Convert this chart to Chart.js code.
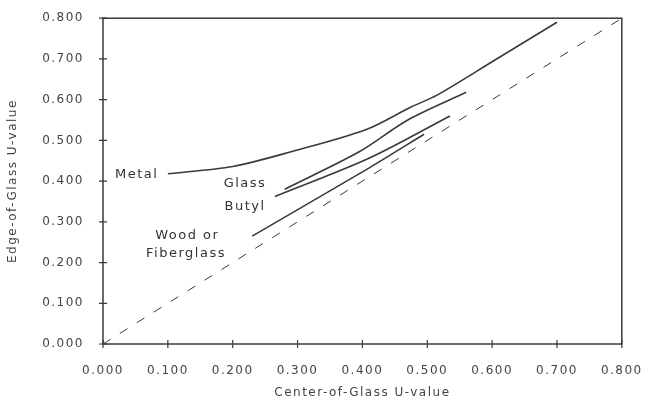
<!DOCTYPE html>
<html>
<head>
<meta charset="utf-8">
<script src="https://cdn.jsdelivr.net/npm/chart.js@4"></script>
<style>
  body { margin: 0; background: #fff; }
  #wrap { width: 651px; height: 405px; }
</style>
</head>
<body>
<div id="wrap"><canvas id="uChart" width="651" height="405"></canvas></div>
<script>
// 各スペーサーの中心部U値と端部U値
const metalX = [0.100, 0.200, 0.290, 0.405, 0.475, 0.515, 0.605, 0.700];
const metalY = [0.418, 0.436, 0.472, 0.526, 0.582, 0.611, 0.698, 0.790];
const glassX = [0.280, 0.395, 0.470, 0.560];
const glassY = [0.380, 0.472, 0.550, 0.618];
const butylX = [0.265, 0.410, 0.535];
const butylY = [0.362, 0.456, 0.560];
const woodX = [0.230, 0.410, 0.495];
const woodY = [0.265, 0.432, 0.515];
const diagX = [0.0, 0.8];
const diagY = [0.0, 0.8];
const tickValues = [0, 0.1, 0.2, 0.3, 0.4, 0.5, 0.6, 0.7, 0.8];

// 線の横に置くラベル (データ座標)
const seriesLabels = [
    { text: 'Metal', x: 0.052, y: 0.416 },
    { text: 'Glass', x: 0.219, y: 0.394 },
    { text: 'Butyl', x: 0.219, y: 0.338 },
    { text: 'Wood or', x: 0.130, y: 0.265 },
    { text: 'Fiberglass', x: 0.128, y: 0.223 }
];

const INK = '#3a3a3a';
const FONT = "'DejaVu Sans', sans-serif";

function toPoints(xs, ys) {
    return xs.map((x, i) => ({ x: x, y: ys[i] }));
}

function lineSet(label, xs, ys, dashed) {
    return {
        label: label,
        data: toPoints(xs, ys),
        showLine: true,
        borderColor: INK,
        borderWidth: dashed ? 1 : 1.6,
        borderDash: dashed ? [9, 11] : [],
        pointRadius: 0,
        tension: 0.3,
        fill: false
    };
}

// 枠線と目盛り線、系列ラベルを描くプラグイン
const framePlugin = {
    id: 'frame',
    beforeDraw(chart) {
        chart.ctx.letterSpacing = '1.5px';
    },
    afterDraw(chart) {
        const ctx = chart.ctx;
        const area = chart.chartArea;
        const xs = chart.scales.x;
        const ys = chart.scales.y;
        ctx.save();
        ctx.strokeStyle = INK;
        ctx.lineWidth = 1.5;
        ctx.strokeRect(area.left, area.top, area.right - area.left, area.bottom - area.top);
        ctx.lineWidth = 1.2;
        ctx.beginPath();
        tickValues.forEach(v => {
            const px = xs.getPixelForValue(v);
            ctx.moveTo(px, area.bottom - 4);
            ctx.lineTo(px, area.bottom + 4);
            const py = ys.getPixelForValue(v);
            ctx.moveTo(area.left - 4, py);
            ctx.lineTo(area.left + 4, py);
        });
        ctx.stroke();

        ctx.fillStyle = '#333';
        ctx.font = '13px ' + FONT;
        ctx.textAlign = 'center';
        ctx.textBaseline = 'middle';
        seriesLabels.forEach(l => {
            ctx.fillText(l.text, xs.getPixelForValue(l.x), ys.getPixelForValue(l.y));
        });
        ctx.restore();
    }
};

const ctx = document.getElementById('uChart').getContext('2d');
new Chart(ctx, {
    type: 'scatter',
    data: {
        datasets: [
            lineSet('Metal', metalX, metalY, false),
            lineSet('Glass', glassX, glassY, false),
            lineSet('Butyl', butylX, butylY, false),
            lineSet('Wood or Fiberglass', woodX, woodY, false),
            lineSet('Center = Edge', diagX, diagY, true)
        ]
    },
    options: {
        responsive: false,
        animation: false,
        layout: { padding: { top: 15, right: 25, left: 0, bottom: 0 } },
        plugins: {
            legend: { display: false },
            tooltip: { enabled: false }
        },
        scales: {
            x: {
                type: 'linear',
                min: 0,
                max: 0.8,
                afterFit(scale) { scale.height = 61; },
                grid: { display: false },
                border: { display: false },
                ticks: {
                    stepSize: 0.1,
                    padding: 12,
                    color: '#444',
                    font: { family: FONT, size: 12 },
                    callback: v => v.toFixed(3)
                },
                title: {
                    display: true,
                    text: 'Center-of-Glass U-value',
                    color: '#444',
                    font: { family: FONT, size: 12 },
                    padding: { top: 0, bottom: 5 }
                }
            },
            y: {
                type: 'linear',
                min: 0,
                max: 0.8,
                afterFit(scale) { scale.width = 103; },
                grid: { display: false },
                border: { display: false },
                ticks: {
                    stepSize: 0.1,
                    padding: 11,
                    color: '#444',
                    font: { family: FONT, size: 12 },
                    callback: v => v.toFixed(3)
                },
                title: {
                    display: true,
                    text: 'Edge-of-Glass U-value',
                    color: '#444',
                    font: { family: FONT, size: 12 },
                    padding: { top: 6, bottom: 0 }
                }
            }
        }
    },
    plugins: [framePlugin]
});
</script>
</body>
</html>
